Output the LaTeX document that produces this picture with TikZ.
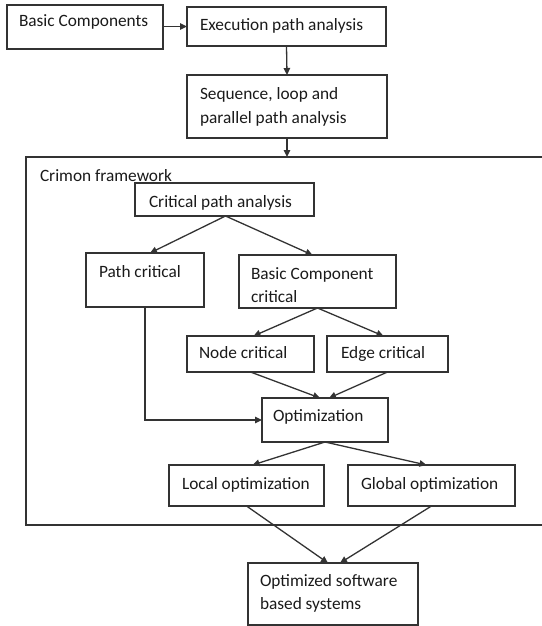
\documentclass[tikz,border=0pt]{standalone}
\usepackage{fontspec}
\setmainfont{Carlito}
\usetikzlibrary{arrows.meta,calc}
\definecolor{linec}{HTML}{333333}
\definecolor{textc}{HTML}{1A1A1A}
\newcommand\mkbox[5]{\node[box, minimum width={(#4-#2)*1pt}, minimum height={(#5-#3)*1pt}] (#1) at (#2,#3) {};}
\begin{document}
\begin{tikzpicture}[x=1pt,y=-1pt,
  box/.style={draw=linec, line width=1.3pt, inner sep=0pt, outer sep=0pt, anchor=north west},
  txt/.style={anchor=base west, inner sep=0pt, outer sep=0pt, text=textc, font=\fontsize{17.3}{20}\selectfont},
  conn/.style={draw=linec, line width=1.3pt, -{Triangle[length=7pt,width=6.5pt]}}]
\useasboundingbox (0,0) rectangle (541,626);
% frame
\node[box, minimum width=540pt, minimum height=368pt] (frame) at (26,157) {};
\node[txt] (tframe) at (40,181) {Crimon framework};
% boxes
\mkbox{bc}{7}{5}{163}{49}
\mkbox{ex}{187}{7}{386}{46}
\mkbox{seq}{187}{75}{387}{138}
\mkbox{cpa}{135}{183}{314}{216}
\mkbox{pc}{86}{253}{204}{307}
\mkbox{bcc}{239}{255}{396}{308}
\mkbox{nc}{187}{336}{314}{372}
\mkbox{ec}{327}{336}{448}{372}
\mkbox{opt}{262}{398}{388}{442}
\mkbox{lo}{169}{465}{324}{506}
\mkbox{go}{348}{465}{515}{506}
\mkbox{osb}{248}{563}{418}{625}
% texts
\node[txt] (tbc) at (19,27) {Basic Components};
\node[txt] (tex) at (200,31) {Execution path analysis};
\node[txt] (tseq1) at (200,99) {Sequence, loop and};
\node[txt] (tseq2) at (200,123) {parallel path analysis};
\node[txt] (tcpa) at (149,207) {Critical path analysis};
\node[txt] (tpc) at (99,277) {Path critical};
\node[txt] (tbcc1) at (251,279) {Basic Component};
\node[txt] (tbcc2) at (251,302) {critical};
\node[txt] (tnc) at (199,358) {Node critical};
\node[txt] (tec) at (341,358) {Edge critical};
\node[txt] (topt) at (273,421) {Optimization};
\node[txt] (tlo) at (182,489) {Local optimization};
\node[txt] (tgo) at (361,489) {Global optimization};
\node[txt] (tosb1) at (260,586) {Optimized software};
\node[txt] (tosb2) at (260,609) {based systems};
% connectors
\draw[conn] (bc.east |- ex.west) -- (ex.west);
\draw[conn] (ex.south) -- (seq.north);
\draw[conn] (seq.south) -- (seq.south |- frame.north);
\draw[conn] ($(cpa.south)+(1,0)$) -- ($(pc.north)+(5,0)$);
\draw[conn] ($(cpa.south)+(1,0)$) -- ($(bcc.north)+(-5,0)$);
\draw[conn] (bcc.south) -- ($(nc.north)+(3,0)$);
\draw[conn] (bcc.south) -- ($(ec.north)+(-4,0)$);
\draw[conn] (nc.south) -- ($(opt.north)+(-5,0)$);
\draw[conn] (ec.south) -- ($(opt.north)+(4,0)$);
\draw[conn] (pc.south) |- (opt.west);
\draw[conn] (opt.south) -- ($(lo.north)+(6,0)$);
\draw[conn] (opt.south) -- ($(go.north)+(-5,0)$);
\draw[conn] (lo.south) -- ($(osb.north)+(-5,0)$);
\draw[conn] (go.south) -- ($(osb.north)+(7,0)$);
\end{tikzpicture}
\end{document}
